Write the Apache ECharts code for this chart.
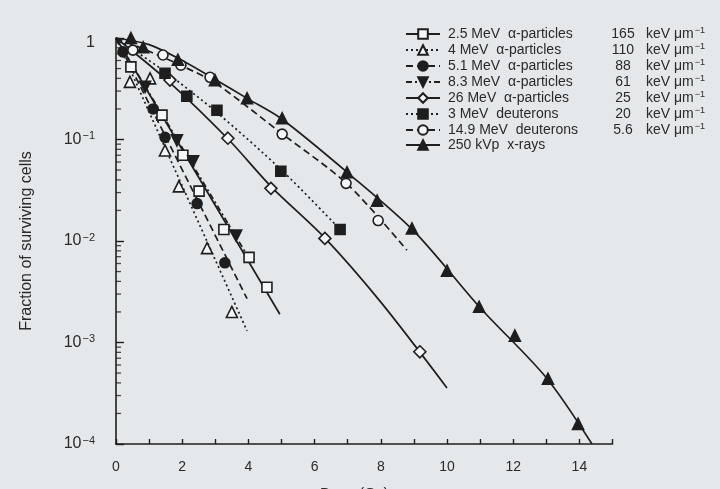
<!DOCTYPE html>
<html>
<head>
<meta charset="utf-8">
<script src="https://cdn.jsdelivr.net/npm/echarts@6/dist/echarts.min.js"></script>
<style>
html,body{margin:0;padding:0;background:#e4e8eb;}
#chart{width:720px;height:489px;}
</style>
</head>
<body>
<div id="chart"></div>
<script>
// ---- Data (dose in Gy, surviving fraction) ----
var seriesNames = ['2.5 MeV  α-particles','4 MeV  α-particles','5.1 MeV  α-particles','8.3 MeV  α-particles','26 MeV  α-particles','3 MeV  deuterons','14.9 MeV  deuterons','250 kVp  x-rays'];
var letValues = ['165','110','88','61','25','20','5.6',''];

// measured points
var pts25 = [[0,1],[0.45,0.52],[1.39,0.174],[2.02,0.07],[2.51,0.031],[3.26,0.013],[4.02,0.0069],[4.56,0.0035]];
var pts4 = [[0,1],[0.42,0.37],[1.03,0.40],[1.48,0.078],[1.9,0.0345],[2.75,0.0085],[3.5,0.002]];
var pts51 = [[0,1],[0.21,0.73],[1.12,0.2],[1.48,0.105],[2.45,0.0234],[3.29,0.0061]];
var pts83 = [[0,1],[0.88,0.33],[1.84,0.098],[2.33,0.061],[3.63,0.0113]];
var pts26 = [[0,1],[1.63,0.385],[3.38,0.103],[4.68,0.033],[6.31,0.0106],[9.18,0.00081]];
var pts3d = [[0,1],[1.48,0.45],[2.14,0.267],[3.05,0.194],[4.98,0.0486],[6.77,0.013]];
var pts149 = [[0,1],[0.51,0.76],[1.42,0.68],[1.96,0.54],[2.84,0.41],[5.02,0.113],[6.95,0.037],[7.92,0.0159]];
var ptsX = [[0,1],[0.45,1.0],[0.82,0.81],[1.87,0.61],[2.99,0.385],[3.96,0.255],[5.02,0.162],[6.98,0.0475],[7.89,0.025],[8.94,0.0133],[10.0,0.0051],[10.97,0.00225],[12.05,0.00117],[13.05,0.00044],[13.96,0.000158]];

// fitted curves
var fit25 = [[0,1],[4.95,0.0019]];
var fit4 = [[0,1],[3.96,0.0013]];
var fit51 = [[0,1],[3.96,0.0027]];
var fit83 = [[0,1],[4.05,0.0065]];
var fit26 = [[0,1],[1.6,0.37],[3.4,0.1],[4.7,0.034],[6.3,0.0108],[8,0.0025],[10.0,0.000357]];
var fit3d = [[0,1],[1.5,0.46],[3,0.19],[5,0.05],[6.77,0.013]];
var fit149 = [[0,1],[1,0.74],[2,0.53],[3,0.36],[5,0.115],[7,0.036],[8.79,0.0081]];
var fitX = [[0,1],[1,0.86],[2,0.6],[3,0.39],[4,0.25],[5,0.16],[7,0.047],[9,0.0125],[11,0.0022],[13,0.00045],[14.38,0.0001]];

// axis tick labels
var xTickLabels = ['0','2','4','6','8','10','12','14'];
var yDecades = [-4,-3,-2,-1,0];
var minorMantissas = [2,3,4,5,6,7,8,9];

var INK = '#1e1e1e';
var OPEN = '#f4f6f7';
var styles = [
  {sym:'rect', fill:OPEN, line:'solid', rot:0, size:10},
  {sym:'triangle', fill:OPEN, line:[2,3], rot:0, size:11},
  {sym:'circle', fill:INK, line:[7,4], rot:0, size:10},
  {sym:'triangle', fill:INK, line:[6,3,2,3], rot:180, size:11},
  {sym:'diamond', fill:OPEN, line:'solid', rot:0, size:12},
  {sym:'rect', fill:INK, line:[2,3], rot:0, size:10},
  {sym:'circle', fill:OPEN, line:[7,4], rot:0, size:10},
  {sym:'triangle', fill:INK, line:'solid', rot:0, size:11}
];
var ptsAll = [pts25,pts4,pts51,pts83,pts26,pts3d,pts149,ptsX];
var fitAll = [fit25,fit4,fit51,fit83,fit26,fit3d,fit149,fitX];
var smoothAll = [false,false,false,false,true,true,true,true];

var series = [];
for (var i=0;i<seriesNames.length;i++){
  var s = styles[i];
  series.push({
    name: seriesNames[i], type:'line', data: fitAll[i], smooth: smoothAll[i]?0.3:false,
    symbol: s.sym, symbolRotate: s.rot, showSymbol:false, z:2,
    lineStyle:{color:INK, width:1.7, type:s.line},
    itemStyle:{color:s.fill, borderColor:INK, borderWidth:1.6},
    silent:true, animation:false
  });
}
for (var j=0;j<seriesNames.length;j++){
  var t = styles[j];
  series.push({
    name: seriesNames[j], type:'scatter', data: ptsAll[j].slice(1),
    symbol: t.sym, symbolRotate: t.rot, symbolSize: t.size, z:3,
    itemStyle:{color:t.fill, borderColor:INK, borderWidth:1.6, opacity:1},
    silent:true, animation:false
  });
}
// minor ticks on the log axis
var minorTicks = [];
for (var d=0; d<yDecades.length-1; d++){
  for (var m=0;m<minorMantissas.length;m++){
    minorTicks.push([0, minorMantissas[m]*Math.pow(10,yDecades[d])]);
  }
}
series.push({
  name:'_minor', type:'scatter', data:minorTicks, symbol:'rect', symbolSize:[5,1.3], symbolOffset:[2.5,0],
  itemStyle:{color:INK}, clip:false, silent:true, animation:false, z:5
});

var chart = echarts.init(document.getElementById('chart'), null, {renderer:'canvas'});
chart.setOption({
  backgroundColor:'#e4e8eb',
  animation:false,
  textStyle:{fontFamily:'Liberation Sans, Arial, sans-serif', color:'#2a2a2a'},
  grid:{left:116, right:107.5, top:38, bottom:45, containLabel:false, outerBoundsMode:'none'},
  legend:{
    orient:'vertical', left:400, top:21, itemWidth:34, itemHeight:12, itemGap:1,
    data: seriesNames, selectedMode:false,
    formatter:function(name){
      var k = seriesNames.indexOf(name);
      var v = letValues[k];
      if (!v) return '{a|'+name+'}';
      return '{a|'+name+'}{b|'+v+'}{c| keV μm}{s|−1}';
    },
    textStyle:{
      fontFamily:'Liberation Sans, Arial, sans-serif', color:'#2a2a2a', fontSize:14,
      rich:{
        a:{fontSize:14, width:156, padding:[0,0,0,3], lineHeight:16, color:'#2a2a2a'},
        b:{fontSize:14, width:38, align:'right', lineHeight:16, color:'#2a2a2a'},
        c:{fontSize:14, lineHeight:16, color:'#2a2a2a'},
        s:{fontSize:9, verticalAlign:'top', lineHeight:16, padding:[0,0,6,1], color:'#2a2a2a'}
      }
    }
  },
  xAxis:{
    type:'value', min:0, max:15, interval:1,
    name:'Dose (Gy)', nameLocation:'middle', nameGap:42,
    nameTextStyle:{fontSize:15, color:'#2a2a2a', padding:[0,20,0,0]},
    axisLine:{lineStyle:{color:INK, width:1.6}},
    axisTick:{inside:true, length:5, lineStyle:{color:INK, width:1.4}},
    splitLine:{show:false},
    axisLabel:{margin:16, fontSize:14, color:'#2a2a2a',
      formatter:function(v){ var s=String(v); return xTickLabels.indexOf(s)>=0 ? s : ''; }}
  },
  yAxis:{
    type:'log', logBase:10, min:1e-4, max:1,
    name:'Fraction of surviving cells', nameLocation:'middle', nameGap:81, nameRotate:90,
    nameTextStyle:{fontSize:16, color:'#2a2a2a'},
    axisLine:{lineStyle:{color:INK, width:1.6}},
    axisTick:{inside:true, length:8, lineStyle:{color:INK, width:1.4}},
    splitLine:{show:false}, minorTick:{show:false},
    axisLabel:{margin:21, color:'#2a2a2a',
      formatter:function(v){
        var e = Math.round(Math.log(v)/Math.LN10);
        if (e===0) return '{one|1}';
        return '{b|10}{s|−'+(-e)+'}';
      },
      rich:{
        one:{fontSize:16, lineHeight:18, padding:[10,0,0,0], color:'#2a2a2a'},
        b:{fontSize:16, lineHeight:18, color:'#2a2a2a'},
        s:{fontSize:11, verticalAlign:'top', lineHeight:18, padding:[0,0,7,1], color:'#2a2a2a'}
      }
    }
  },
  series: series
});
</script>
</body>
</html>
